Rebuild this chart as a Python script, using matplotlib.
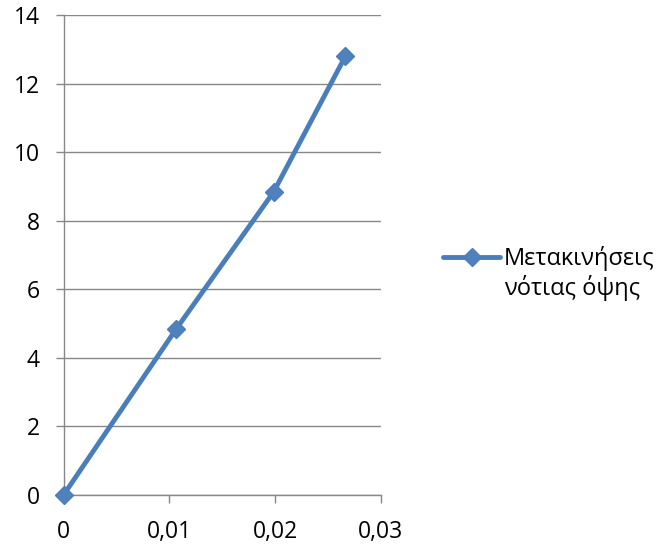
import matplotlib
matplotlib.use("Agg")
import matplotlib.pyplot as plt
from matplotlib.lines import Line2D
from matplotlib.ticker import FuncFormatter

plt.rcParams['font.family'] = ['Open Sans', 'DejaVu Sans']

# Displacement data (south facade)
x_values = [0.0, 0.01064, 0.01985, 0.02663]
y_values = [0.0, 4.84, 8.84, 12.8]
series_label = "Μετακινήσεις\nνότιας όψης"

x_ticks = [0.0, 0.01, 0.02, 0.03]
y_ticks = [0, 2, 4, 6, 8, 10, 12, 14]

line_color = "#4A7EBB"
marker_color = "#4F81BD"
grid_color = "#888888"

fig = plt.figure(figsize=(6.59, 5.47), dpi=100)
ax = fig.add_axes([0.0964, 0.0951, 0.578 - 0.0964, 0.972 - 0.0951])

ax.plot(x_values, y_values, color=line_color, lw=3.5, marker="D", ms=9,
        mfc=marker_color, mec=line_color, mew=1, solid_capstyle="round",
        zorder=3, clip_on=False)

ax.set_xlim(0, 0.03)
ax.set_ylim(0, 14)
ax.set_xticks(x_ticks)
ax.set_yticks(y_ticks)


def comma_fmt(v, pos):
    if abs(v) < 1e-12:
        return "0"
    return f"{v:.2f}".replace(".", ",")


ax.xaxis.set_major_formatter(FuncFormatter(comma_fmt))

ax.grid(axis="y", color=grid_color, lw=1.0)
ax.set_axisbelow(True)
for side in ("top", "right"):
    ax.spines[side].set_visible(False)
for side in ("left", "bottom"):
    ax.spines[side].set_color(grid_color)
    ax.spines[side].set_linewidth(1.0)

ax.tick_params(axis="both", colors=grid_color, labelcolor="black",
               labelsize=16.5, length=6, width=1.0)
ax.tick_params(axis="y", pad=11)
ax.tick_params(axis="x", pad=12)

# Legend drawn at the right of the plot
ly = 1 - 257 / 547
fig.add_artist(Line2D([443 / 659, 500 / 659], [ly, ly], transform=fig.transFigure,
                      color=line_color, lw=3.5, solid_capstyle="round"))
fig.add_artist(Line2D([471.5 / 659], [ly], transform=fig.transFigure,
                      color=line_color, marker="D", ms=9, mfc=marker_color,
                      mec=line_color, mew=1, lw=0))
fig.text(504 / 659, 1 - 246 / 547, series_label, fontsize=17, va="top",
         ha="left", linespacing=1.2)

fig.savefig("out.png", dpi=100)
